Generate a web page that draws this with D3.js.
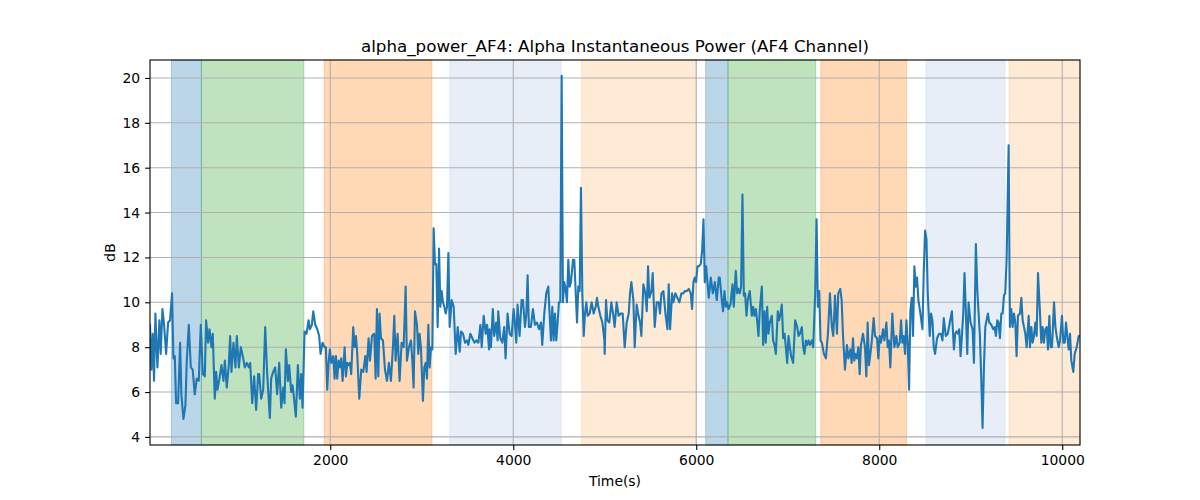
<!DOCTYPE html>
<html>
<head>
<meta charset="utf-8">
<script src="https://cdn.jsdelivr.net/npm/d3@7"></script>
<style>
  body { margin: 0; background: #fff; }
  svg { display: block; }
  text { font-family: "DejaVu Sans", sans-serif; fill: #000; }
</style>
</head>
<body>
<svg id="chart" width="1200" height="500"></svg>
<script>
// ---- data ----
const times = [
  30,45,60,74,89,111,133,147,166,184,206,228,249,271,286,301,315,337,359,373,395,417,432,454,476,497,519,541,563,585,607,629,643,665,680,702,716,738,753,767,789,811,833,848,869,891,906,920,942,964,979,1001,1023,1044,1066,1088,1110,1125,1147,1168,1190,1212,
  1223,1245,1267,1289,1311,1340,1354,1376,1398,1420,1442,1464,1486,1500,1515,1537,1551,1573,1588,1602,1624,1646,1668,1683,1697,1719,1741,1763,1777,1799,1814,1836,1858,1879,1894,1916,1938,1952,1967,1982,1996,2011,2033,2047,2062,2076,2091,2106,2120,2135,2157,2171,2186,2200,2215,2229,2251,2266,2281,2295,2317,2339,2361,2383,2397,2419,2434,2456,2478,
  2481,2496,2510,2525,2539,2554,2576,2598,2620,2641,2663,2685,2700,2714,2736,2758,2780,2802,2824,2838,2860,2882,2897,2911,2926,2948,2962,2977,2992,3013,3028,3043,3057,3072,3086,3101,3116,3130,3145,3159,3174,3189,3203,3218,3232,3247,3262,3276,3291,3305,3327,3349,3371,3393,3415,3429,3451,3473,3495,3509,3531,3553,3575,3597,3619,3641,3655,3677,3699,3714,3736,
  3741,3756,3777,3792,3814,3829,3836,3858,3880,3901,3916,3938,3960,3982,4004,4018,4033,4047,4069,4091,4106,4128,4142,4157,4171,4193,4215,4237,4259,4281,4303,4317,4339,4361,4383,4397,4412,4427,4441,4456,4470,4485,4499,4514,4529,4543,4558,4573,4587,4602,4616,4631,4653,4667,4682,4697,4711,4726,4740,4755,4770,4784,4799,4813,4835,4857,4879,4901,4915,4930,4952,4974,4996,
  4999,5014,5028,5050,5072,5094,5108,5130,5152,5174,5196,5218,5240,5262,5276,5291,5313,5327,5349,5364,5386,5400,5422,5444,5459,5473,5488,5510,5524,5546,5568,5590,5604,5619,5641,5663,5685,5699,5714,5736,5750,5772,5794,5816,5838,5860,5874,5896,5918,5940,5954,5969,5984,5998,6013,6027,6049,6064,6079,6093,6108,6122,6137,6159,6181,6203,6224,6246,
  6257,6279,6293,6308,6323,6337,6352,6374,6396,6410,6432,6447,6461,6476,6490,6505,6520,6534,6549,6563,6585,6607,6622,6636,6651,6665,6680,6695,6717,6731,6746,6760,6775,6789,6804,6826,6840,6855,6870,6891,6906,6921,6935,6950,6965,6979,6994,7008,7023,7037,7059,7081,7103,7118,7132,7154,7169,7183,7198,7212,7227,7242,7264,7278,7300,7315,7329,7344,7358,7373,7395,7417,7439,7461,7482,7497,7512,
  7516,7538,7552,7574,7589,7603,7625,7647,7662,7684,7698,7713,7727,7742,7757,7771,7786,7800,7822,7844,7859,7873,7888,7903,7917,7939,7954,7976,7990,8005,8019,8041,8056,8078,8092,8107,8121,8143,8165,8187,8202,8224,8238,8253,8267,8282,8297,8311,8326,8340,8355,8369,8384,8399,8413,8428,8450,8472,8486,8501,8516,8530,8552,8566,8581,8596,8610,8632,8654,8676,8691,8705,8727,8749,8771,
  8794,8816,8830,8845,8860,8874,8889,8903,8918,8932,8947,8962,8976,8998,9020,9035,9056,9071,9086,9100,9115,9129,9144,9159,9173,9188,9202,9224,9246,9261,9275,9290,9304,9319,9334,9348,9363,9377,9392,9414,9428,9443,9458,9472,9487,9501,9516,9538,9553,9567,9582,9596,9611,9633,9647,9662,9676,9691,9706,9720,9735,9757,9771,9786,9800,9815,9830,9844,9859,9873,9888,9910,9925,9939,9961,9976,9997,10012,10027,10041,10055,10070,10085,10099,10121,10136,10158,10180,10194
];
const powerDb = [
  9.0,7.0,8.6,6.5,9.5,7.1,9.2,7.7,9.7,9.0,7.7,9.1,9.2,10.4,7.5,7.6,5.5,5.5,8.2,5.9,4.8,5.4,7.4,9.0,7.1,7.0,5.9,6.6,6.5,9.0,6.8,6.7,9.2,8.2,8.8,8.0,8.6,5.7,6.9,6.1,6.6,7.2,6.5,7.4,6.2,7.2,8.5,6.9,8.2,7.1,8.5,7.1,8.0,7.6,7.1,7.3,7.1,7.3,5.5,6.7,5.2,6.8,
  6.8,5.7,6.1,8.9,6.8,4.85,6.6,6.9,7.1,5.9,7.3,5.3,6.2,5.5,7.9,6.5,7.2,6.0,6.3,5.8,4.9,7.2,5.7,6.8,5.3,8.7,8.6,9.2,8.8,9.0,9.6,9.0,8.8,8.5,7.7,8.2,8.0,8.0,6.1,7.3,7.9,7.3,7.6,6.6,7.6,6.6,7.4,7.1,7.5,6.5,8.0,6.7,7.3,7.2,7.3,6.8,8.9,8.0,8.5,7.7,5.7,7.0,6.9,7.6,6.9,8.4,7.4,8.5,8.6,
  8.6,6.6,9.7,6.7,9.5,8.4,8.3,7.0,6.5,7.3,6.5,8.0,9.4,7.4,8.6,6.5,8.2,8.0,10.7,7.4,8.0,8.3,7.4,6.2,9.6,9.0,7.7,8.6,7.9,5.6,7.1,7.3,6.6,9.0,7.1,8.0,7.9,13.3,11.7,11.7,8.9,12.4,9.8,10.5,10.0,9.8,9.5,9.8,12.2,8.9,10.1,9.8,7.7,8.9,7.8,8.7,8.6,8.2,8.3,8.1,8.6,8.4,8.2,8.3,8.2,9.0,8.0,9.4,8.6,9.0,7.9,
  8.8,8.0,9.7,8.5,9.1,8.3,9.6,8.4,8.2,8.9,7.5,9.5,8.6,8.5,9.7,9.1,8.2,9.9,8.5,10.1,10.1,8.9,9.4,11.2,8.9,8.9,9.7,9.0,9.1,8.8,9.1,8.1,9.5,10.4,10.7,9.5,8.3,9.8,8.3,9.5,8.3,9.1,10.0,10.0,20.1,10.0,10.9,10.6,10.0,11.9,10.7,10.9,11.9,11.9,10.5,9.1,10.7,10.5,15.1,10.4,8.5,9.5,10.0,9.4,9.5,10.0,9.5,9.8,10.2,9.8,9.4,9.1,8.3,
  7.7,10.1,9.2,9.1,10.0,9.4,8.9,10.0,9.4,9.5,9.5,8.0,9.1,9.5,10.4,10.9,10.1,8.0,9.9,9.5,9.1,8.5,10.8,10.4,9.6,11.6,10.2,10.5,11.3,8.9,10.0,10.0,9.5,10.4,10.5,9.5,8.8,10.8,8.8,10.4,10.0,10.4,10.2,10.0,10.4,10.4,10.5,10.5,10.6,10.4,9.7,10.9,11.1,10.9,11.6,11.6,11.7,12.3,13.7,10.9,11.6,10.9,10.2,11.1,10.4,10.9,10.1,11.1,
  11.1,10.1,9.6,10.5,9.8,10.0,9.7,9.9,10.8,9.8,11.4,10.4,10.6,10.4,10.7,14.8,10.3,10.4,9.4,10.1,10.5,9.4,9.8,9.4,9.7,9.2,8.5,9.7,10.7,8.1,9.6,8.2,9.8,8.6,9.1,9.4,8.3,8.1,7.7,9.6,9.2,9.5,9.9,8.4,8.6,8.0,7.3,8.5,8.0,7.6,7.3,9.2,8.9,8.5,8.6,8.9,8.0,7.7,8.3,8.1,8.3,8.1,8.3,8.0,10.4,13.7,9.8,10.5,8.3,8.2,7.7,7.5,8.6,10.4,8.9,8.5,9.8,
  10.3,8.6,10.4,10.6,10.1,8.6,7.0,8.1,7.5,7.9,7.3,8.4,7.4,7.7,7.5,8.0,6.8,8.1,8.6,8.0,6.7,9.1,7.2,7.7,8.2,9.3,8.5,8.4,7.5,8.5,8.2,8.8,8.3,9.1,8.0,8.3,7.1,9.5,8.0,8.5,8.0,8.2,9.2,8.2,8.5,7.7,9.2,8.2,6.1,9.6,10.2,8.5,11.6,10.7,11.1,10.1,9.5,8.8,11.3,13.2,12.8,10.4,8.5,9.5,9.2,8.0,7.7,8.4,8.6,8.6,8.3,9.3,8.5,8.6,9.1,
  9.6,7.9,8.6,8.7,8.6,8.8,7.6,8.5,9.5,11.3,9.5,7.7,10.0,9.1,8.8,7.3,12.6,10.6,9.5,8.5,6.6,4.4,7.1,8.9,9.2,9.5,9.1,9.0,8.8,8.9,8.5,9.2,9.1,8.4,9.5,9.5,10.3,10.4,11.9,17.0,8.9,9.7,8.9,9.5,9.1,7.6,9.4,9.5,10.2,9.2,8.9,8.6,8.0,9.4,8.0,8.9,8.2,8.5,9.1,8.5,11.3,9.5,8.2,8.9,8.2,8.8,8.9,7.9,9.4,8.0,8.0,10.0,8.9,8.5,8.0,8.3,9.4,8.2,8.2,9.1,8.5,7.9,8.6,7.4,6.9,7.7,8.0,8.5,8.5
];
// shaded intervals (start, end, colour)
const spanStarts = [264, 592, 1934, 3306, 4746, 6103, 6347, 7361, 8510, 9418];
const spanEnds   = [592, 1712, 3112, 4524, 5997, 6347, 7306, 8299, 9374, 10194];
const spanColors = ["#1f77b4", "#2ca02c", "#ff7f0e", "#aec7e8", "#ffbb78",
                    "#1f77b4", "#2ca02c", "#ff7f0e", "#aec7e8", "#ffbb78"];
const xTicks = [2000, 4000, 6000, 8000, 10000];
const yTicks = [4, 6, 8, 10, 12, 14, 16, 18, 20];
const titleText = "alpha_power_AF4: Alpha Instantaneous Power (AF4 Channel)";
const xLabel = "Time(s)";
const yLabel = "dB";

// ---- layout ----
const L = 150, R = 1080, T = 60, B = 445;
const svg = d3.select("#chart");

const x = d3.scaleLinear().domain([times[0], times[times.length - 1]]).range([L, R]);
const y = d3.scaleLinear().domain([3.64, 20.8]).range([B, T]);

const data = times.map((t, i) => ({ t, v: powerDb[i] }));
const spans = spanStarts.map((s, i) => ({ s, e: spanEnds[i], c: spanColors[i] }));

// spans
svg.append("g").selectAll("rect").data(spans).join("rect")
  .attr("x", d => x(d.s)).attr("width", d => x(d.e) - x(d.s))
  .attr("y", T).attr("height", B - T)
  .attr("fill", d => d.c).attr("fill-opacity", 0.3)
  .attr("stroke", d => d.c).attr("stroke-opacity", 0.3).attr("stroke-width", 1);

// grid
const grid = svg.append("g");
grid.selectAll(".gx").data(xTicks).join("line")
  .attr("x1", d => x(d)).attr("x2", d => x(d))
  .attr("y1", T).attr("y2", B)
  .attr("stroke", "#b0b0b0").attr("stroke-width", 1.1);
grid.selectAll(".gy").data(yTicks).join("line")
  .attr("y1", d => y(d)).attr("y2", d => y(d))
  .attr("x1", L).attr("x2", R)
  .attr("stroke", "#b0b0b0").attr("stroke-width", 1.1);

// line
svg.append("clipPath").attr("id", "clip").append("rect")
  .attr("x", L).attr("y", T).attr("width", R - L).attr("height", B - T);
svg.append("path").datum(data)
  .attr("clip-path", "url(#clip)")
  .attr("fill", "none").attr("stroke", "#1f77b4").attr("stroke-width", 2.1)
  .attr("stroke-linejoin", "round").attr("stroke-linecap", "square")
  .attr("d", d3.line().x(d => x(d.t)).y(d => y(d.v)));

// axes
const xAxis = svg.append("g").attr("transform", `translate(0,${B})`)
  .call(d3.axisBottom(x).tickValues(xTicks).tickSize(4.9).tickPadding(4.9).tickFormat(d3.format("d")));
const yAxis = svg.append("g").attr("transform", `translate(${L},0)`)
  .call(d3.axisLeft(y).tickValues(yTicks).tickSize(4.9).tickPadding(4.9).tickFormat(d3.format("d")));
[xAxis, yAxis].forEach(a => {
  a.select(".domain").remove();
  a.selectAll(".tick line").attr("stroke", "#000").attr("stroke-width", 1.1);
  a.selectAll(".tick text").attr("font-family", "DejaVu Sans").attr("font-size", "13.9px").attr("fill", "#000");
});

// frame
svg.append("rect").attr("x", L).attr("y", T).attr("width", R - L).attr("height", B - T)
  .attr("fill", "none").attr("stroke", "#000").attr("stroke-width", 1.1);

// texts
svg.append("text").attr("x", (L + R) / 2).attr("y", 52).attr("text-anchor", "middle")
  .attr("font-size", "16.7px").text(titleText);
svg.append("text").attr("x", (L + R) / 2).attr("y", 486).attr("text-anchor", "middle")
  .attr("font-size", "13.9px").text(xLabel);
svg.append("text").attr("transform", `translate(115,${(T + B) / 2}) rotate(-90)`)
  .attr("text-anchor", "middle").attr("font-size", "13.9px").text(yLabel);
</script>
</body>
</html>
